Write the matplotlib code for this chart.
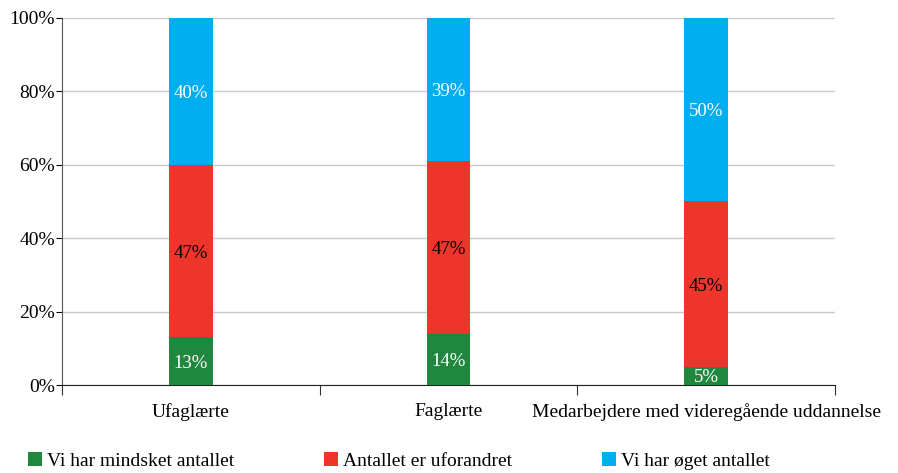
import matplotlib.pyplot as plt
import numpy as np

# Data
categories = ['Ufaglærte', 'Faglærte', 'Medarbejdere med videregående uddannelse']
series_names = ['Vi har mindsket antallet', 'Antallet er uforandret', 'Vi har øget antallet']
mindsket = [13, 14, 5]
uforandret = [47, 47, 45]
oeget = [40, 39, 50]

colors = ['#20873f', '#ee352b', '#00aeef']
text_colors = ['white', 'black', 'white']

plt.rcParams['font.family'] = ['Liberation Serif', 'DejaVu Serif']

fig = plt.figure(figsize=(8.98, 4.73), dpi=100)
ax = fig.add_axes([0.069, 0.186, 0.861, 0.776])

x = np.arange(len(categories)) + 0.5
width = 0.17
bottom = np.zeros(len(categories))
for vals, name, col, tcol in zip([mindsket, uforandret, oeget], series_names, colors, text_colors):
    vals = np.array(vals, dtype=float)
    ax.bar(x, vals, width, bottom=bottom, color=col, label=name, zorder=3)
    for xi, b, v in zip(x, bottom, vals):
        ax.text(xi, b + v / 2, f'{int(v)}%', ha='center', va='center_baseline',
                color=tcol, fontsize=13.5, zorder=4)
    bottom += vals

ax.set_xlim(0, len(categories))
ax.set_ylim(0, 100)
ax.set_yticks(np.arange(0, 101, 20))
ax.set_yticklabels([f'{v}%' for v in range(0, 101, 20)], fontsize=14)
ax.yaxis.grid(True, color='#c8c8c8', linewidth=1, zorder=0)

ax.set_xticks(np.arange(0, len(categories) + 1))
ax.set_xticklabels([])
ax.set_xticks(x, minor=True)
ax.set_xticklabels(categories, minor=True, fontsize=14)
ax.tick_params(axis='x', which='major', length=7, direction='out', color='#333333')
ax.tick_params(axis='x', which='minor', length=0, pad=13)
ax.tick_params(axis='y', length=4, direction='out', pad=1)

for s in ['top', 'right']:
    ax.spines[s].set_visible(False)
ax.spines['left'].set_color('#555555')
ax.spines['bottom'].set_color('#222222')

fig.legend(loc='lower left', bbox_to_anchor=(0.022, -0.01), ncol=3, frameon=False,
           fontsize=14, handlelength=0.75, handleheight=0.75, handletextpad=0.25,
           columnspacing=4.6, borderaxespad=0.0)

plt.savefig('out.png', dpi=100)
